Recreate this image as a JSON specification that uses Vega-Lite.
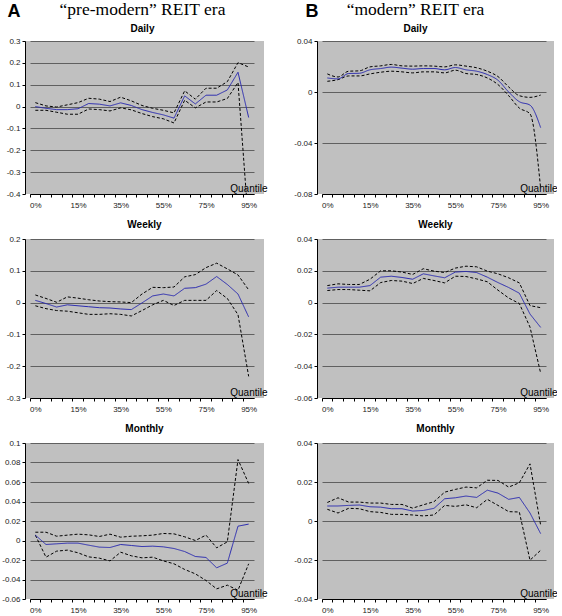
{
  "$schema": "https://vega.github.io/schema/vega-lite/v6.json",
  "background": "white",
  "padding": {"left": 1, "top": 0, "right": 0, "bottom": 0},
  "columns": 2,
  "bounds": "flush",
  "spacing": {"row": 45, "column": 53},
  "datasets": {
    "AD": [
      {"q": "0%", "est": 0.0, "hi": 0.018, "lo": -0.017},
      {"q": "1%", "est": -0.008, "hi": 0.003, "lo": -0.017},
      {"q": "5%", "est": -0.014, "hi": -0.002, "lo": -0.026},
      {"q": "10%", "est": -0.014, "hi": 0.008, "lo": -0.035},
      {"q": "15%", "est": -0.01, "hi": 0.018, "lo": -0.035},
      {"q": "20%", "est": 0.014, "hi": 0.038, "lo": -0.011},
      {"q": "25%", "est": 0.011, "hi": 0.034, "lo": -0.014},
      {"q": "30%", "est": 0.003, "hi": 0.023, "lo": -0.02},
      {"q": "35%", "est": 0.017, "hi": 0.043, "lo": -0.006},
      {"q": "40%", "est": 0.005, "hi": 0.026, "lo": -0.015},
      {"q": "45%", "est": -0.014, "hi": 0.005, "lo": -0.032},
      {"q": "50%", "est": -0.027, "hi": -0.008, "lo": -0.046},
      {"q": "55%", "est": -0.038, "hi": -0.017, "lo": -0.056},
      {"q": "60%", "est": -0.053, "hi": -0.029, "lo": -0.075},
      {"q": "65%", "est": 0.049, "hi": 0.072, "lo": 0.029},
      {"q": "70%", "est": 0.012, "hi": 0.034, "lo": -0.006},
      {"q": "75%", "est": 0.052, "hi": 0.084, "lo": 0.021},
      {"q": "80%", "est": 0.052, "hi": 0.084, "lo": 0.021},
      {"q": "85%", "est": 0.076, "hi": 0.114, "lo": 0.037},
      {"q": "90%", "est": 0.157, "hi": 0.201, "lo": 0.11},
      {"q": "95%", "est": -0.05, "hi": 0.181, "lo": -0.55}
    ],
    "BD": [
      {"q": "0%", "est": 0.011, "hi": 0.0142, "lo": 0.0084},
      {"q": "1%", "est": 0.0103, "hi": 0.0118, "lo": 0.0097},
      {"q": "5%", "est": 0.0145, "hi": 0.0163, "lo": 0.0126},
      {"q": "10%", "est": 0.0147, "hi": 0.0166, "lo": 0.0126},
      {"q": "15%", "est": 0.0174, "hi": 0.0197, "lo": 0.0142},
      {"q": "20%", "est": 0.0184, "hi": 0.0205, "lo": 0.0155},
      {"q": "25%", "est": 0.0195, "hi": 0.0216, "lo": 0.0163},
      {"q": "30%", "est": 0.0187, "hi": 0.0205, "lo": 0.0158},
      {"q": "35%", "est": 0.0179, "hi": 0.0203, "lo": 0.015},
      {"q": "40%", "est": 0.0184, "hi": 0.0205, "lo": 0.0158},
      {"q": "45%", "est": 0.0184, "hi": 0.0203, "lo": 0.0158},
      {"q": "50%", "est": 0.0174, "hi": 0.0197, "lo": 0.015},
      {"q": "55%", "est": 0.0192, "hi": 0.0213, "lo": 0.0171},
      {"q": "60%", "est": 0.0174, "hi": 0.0203, "lo": 0.0145},
      {"q": "65%", "est": 0.0163, "hi": 0.019, "lo": 0.0137},
      {"q": "70%", "est": 0.0137, "hi": 0.0163, "lo": 0.011},
      {"q": "75%", "est": 0.0092, "hi": 0.0121, "lo": 0.0058},
      {"q": "80%", "est": 0.0, "hi": 0.004, "lo": -0.0029},
      {"q": "85%", "est": -0.0076, "hi": -0.0029, "lo": -0.0126},
      {"q": "90%", "est": -0.0103, "hi": -0.0042, "lo": -0.0171},
      {"q": "95%", "est": -0.028, "hi": -0.0024, "lo": -0.0758}
    ],
    "AW": [
      {"q": "0%", "est": 0.007, "hi": 0.024, "lo": -0.01},
      {"q": "1%", "est": -0.003, "hi": 0.013, "lo": -0.019},
      {"q": "5%", "est": -0.014, "hi": 0.001, "lo": -0.025},
      {"q": "10%", "est": -0.007, "hi": 0.018, "lo": -0.027},
      {"q": "15%", "est": -0.01, "hi": 0.014, "lo": -0.032},
      {"q": "20%", "est": -0.013, "hi": 0.009, "lo": -0.037},
      {"q": "25%", "est": -0.016, "hi": 0.005, "lo": -0.037},
      {"q": "30%", "est": -0.017, "hi": 0.003, "lo": -0.035},
      {"q": "35%", "est": -0.02, "hi": 0.002, "lo": -0.037},
      {"q": "40%", "est": -0.022, "hi": 0.0, "lo": -0.042},
      {"q": "45%", "est": -0.001, "hi": 0.027, "lo": -0.025},
      {"q": "50%", "est": 0.021, "hi": 0.048, "lo": -0.007},
      {"q": "55%", "est": 0.027, "hi": 0.047, "lo": 0.007},
      {"q": "60%", "est": 0.021, "hi": 0.049, "lo": -0.009},
      {"q": "65%", "est": 0.045, "hi": 0.081, "lo": 0.007},
      {"q": "70%", "est": 0.047, "hi": 0.088, "lo": 0.007},
      {"q": "75%", "est": 0.058, "hi": 0.11, "lo": 0.007},
      {"q": "80%", "est": 0.082, "hi": 0.124, "lo": 0.038},
      {"q": "85%", "est": 0.057, "hi": 0.106, "lo": 0.013},
      {"q": "90%", "est": 0.027, "hi": 0.087, "lo": -0.038},
      {"q": "95%", "est": -0.045, "hi": 0.04, "lo": -0.232}
    ],
    "BW": [
      {"q": "0%", "est": 0.0091, "hi": 0.0107, "lo": 0.0076},
      {"q": "1%", "est": 0.0097, "hi": 0.0118, "lo": 0.0082},
      {"q": "5%", "est": 0.0097, "hi": 0.0114, "lo": 0.0082},
      {"q": "10%", "est": 0.0097, "hi": 0.0114, "lo": 0.0078},
      {"q": "15%", "est": 0.0107, "hi": 0.0147, "lo": 0.0074},
      {"q": "20%", "est": 0.016, "hi": 0.02, "lo": 0.0126},
      {"q": "25%", "est": 0.0166, "hi": 0.02, "lo": 0.0139},
      {"q": "30%", "est": 0.0158, "hi": 0.0192, "lo": 0.0135},
      {"q": "35%", "est": 0.0147, "hi": 0.0177, "lo": 0.012},
      {"q": "40%", "est": 0.0181, "hi": 0.0213, "lo": 0.0152},
      {"q": "45%", "est": 0.0168, "hi": 0.0198, "lo": 0.0139},
      {"q": "50%", "est": 0.0156, "hi": 0.0189, "lo": 0.0124},
      {"q": "55%", "est": 0.0192, "hi": 0.0217, "lo": 0.0166},
      {"q": "60%", "est": 0.0196, "hi": 0.0229, "lo": 0.0164},
      {"q": "65%", "est": 0.0189, "hi": 0.0225, "lo": 0.0149},
      {"q": "70%", "est": 0.016, "hi": 0.0198, "lo": 0.0131},
      {"q": "75%", "est": 0.0126, "hi": 0.0181, "lo": 0.0078},
      {"q": "80%", "est": 0.0095, "hi": 0.0156, "lo": 0.0029},
      {"q": "85%", "est": 0.0059, "hi": 0.0124, "lo": -0.0006},
      {"q": "90%", "est": -0.0072, "hi": -0.0019, "lo": -0.0154},
      {"q": "95%", "est": -0.0156, "hi": -0.0032, "lo": -0.0444}
    ],
    "AM": [
      {"q": "0%", "est": 0.0055, "hi": 0.0085, "lo": 0.0055},
      {"q": "1%", "est": -0.0041, "hi": 0.0085, "lo": -0.0171},
      {"q": "5%", "est": -0.0034, "hi": 0.0044, "lo": -0.0109},
      {"q": "10%", "est": -0.0027, "hi": 0.0055, "lo": -0.0099},
      {"q": "15%", "est": -0.0027, "hi": 0.0065, "lo": -0.0126},
      {"q": "20%", "est": -0.0048, "hi": 0.0058, "lo": -0.0168},
      {"q": "25%", "est": -0.0068, "hi": 0.0041, "lo": -0.0181},
      {"q": "30%", "est": -0.0072, "hi": 0.0065, "lo": -0.0209},
      {"q": "35%", "est": -0.0041, "hi": 0.0034, "lo": -0.012},
      {"q": "40%", "est": -0.0051, "hi": 0.0044, "lo": -0.0157},
      {"q": "45%", "est": -0.0062, "hi": 0.0048, "lo": -0.0178},
      {"q": "50%", "est": -0.0058, "hi": 0.0055, "lo": -0.0171},
      {"q": "55%", "est": -0.0065, "hi": 0.0072, "lo": -0.0209},
      {"q": "60%", "est": -0.0082, "hi": 0.0068, "lo": -0.0239},
      {"q": "65%", "est": -0.0113, "hi": 0.0038, "lo": -0.0297},
      {"q": "70%", "est": -0.0164, "hi": 0.0, "lo": -0.0342},
      {"q": "75%", "est": -0.0174, "hi": 0.0055, "lo": -0.041},
      {"q": "80%", "est": -0.028, "hi": -0.0075, "lo": -0.0496},
      {"q": "85%", "est": -0.0232, "hi": -0.0014, "lo": -0.0458},
      {"q": "90%", "est": 0.0147, "hi": 0.083, "lo": -0.051},
      {"q": "95%", "est": 0.0168, "hi": 0.0585, "lo": -0.0239}
    ],
    "BM": [
      {"q": "0%", "est": 0.0077, "hi": 0.0095, "lo": 0.006},
      {"q": "1%", "est": 0.0077, "hi": 0.0119, "lo": 0.0041},
      {"q": "5%", "est": 0.008, "hi": 0.0097, "lo": 0.0065},
      {"q": "10%", "est": 0.0082, "hi": 0.0097, "lo": 0.0063},
      {"q": "15%", "est": 0.0073, "hi": 0.0092, "lo": 0.0048},
      {"q": "20%", "est": 0.0071, "hi": 0.0092, "lo": 0.0044},
      {"q": "25%", "est": 0.0063, "hi": 0.0085, "lo": 0.0034},
      {"q": "30%", "est": 0.0063, "hi": 0.0085, "lo": 0.0034},
      {"q": "35%", "est": 0.0051, "hi": 0.0066, "lo": 0.0031},
      {"q": "40%", "est": 0.0054, "hi": 0.0083, "lo": 0.0026},
      {"q": "45%", "est": 0.0065, "hi": 0.0099, "lo": 0.0031},
      {"q": "50%", "est": 0.0114, "hi": 0.0148, "lo": 0.008},
      {"q": "55%", "est": 0.0119, "hi": 0.0162, "lo": 0.0075},
      {"q": "60%", "est": 0.0128, "hi": 0.0174, "lo": 0.0083},
      {"q": "65%", "est": 0.0121, "hi": 0.017, "lo": 0.0068},
      {"q": "70%", "est": 0.0158, "hi": 0.0209, "lo": 0.0111},
      {"q": "75%", "est": 0.0143, "hi": 0.0208, "lo": 0.008},
      {"q": "80%", "est": 0.0111, "hi": 0.0174, "lo": 0.0048},
      {"q": "85%", "est": 0.0121, "hi": 0.0196, "lo": 0.0046},
      {"q": "90%", "est": 0.0041, "hi": 0.0293, "lo": -0.0201},
      {"q": "95%", "est": -0.0065, "hi": -0.0022, "lo": -0.015}
    ]
  },
  "concat": [
    {
      "width": 239, "height": 153,
      "data": {"name": "AD"},
      "transform": [{"fold": ["hi", "lo", "est"], "as": ["series", "value"]}],
      "title": {"text": "“pre-modern” REIT era", "subtitle": "Daily", "dx": -2, "dy": 37, "font": "Liberation Serif", "fontSize": 17.5, "fontWeight": "normal"},
      "mark": {"type": "line", "strokeWidth": 1, "clip": true},
      "encoding": {
        "x": {"field": "q", "type": "ordinal",
          "scale": {"type": "point", "domain": ["0%","1%","5%","10%","15%","20%","25%","30%","35%","40%","45%","50%","55%","60%","65%","70%","75%","80%","85%","90%","95%"], "range": [5, 229]},
          "axis": {"title": "Quantile", "titleX": 242}},
        "y": {"field": "value", "type": "quantitative", "title": "A",
          "scale": {"domain": [-0.4, 0.3], "nice": false, "zero": false},
          "axis": {"values": [-0.4, -0.3, -0.2, -0.1, 0, 0.1, 0.2, 0.3], "titleAngle": 0, "titleX": -18, "titleY": -25, "titleAlign": "left", "titleBaseline": "alphabetic", "titleFontSize": 18, "titleFontWeight": "bold"}},
        "color": {"field": "series", "type": "nominal", "scale": {"domain": ["hi", "lo", "est"], "range": ["#000000", "#000000", "#2a2ab0"]}, "legend": null},
        "strokeDash": {"field": "series", "type": "nominal", "scale": {"domain": ["hi", "lo", "est"], "range": [[3, 2], [3, 2], [1, 0]]}, "legend": null}
      }
    },
    {
      "width": 237, "height": 153,
      "data": {"name": "BD"},
      "title": {"text": "“modern” REIT era", "subtitle": "Daily", "dx": -20, "dy": 37, "font": "Liberation Serif", "fontSize": 17.5, "fontWeight": "normal"},
      "encoding": {
        "x": {"field": "q", "type": "ordinal",
          "scale": {"type": "point", "domain": ["0%","1%","5%","10%","15%","20%","25%","30%","35%","40%","45%","50%","55%","60%","65%","70%","75%","80%","85%","90%","95%"], "range": [5, 229]},
          "axis": {"title": "Quantile", "titleX": 240}}
      },
      "layer": [
        {
          "mark": {"type": "rule", "color": "#000000", "strokeWidth": 1.2},
          "encoding": {"y": {"datum": 0, "type": "quantitative", "title": "B",
            "scale": {"domain": [-0.08, 0.04], "nice": false, "zero": false},
            "axis": {"values": [-0.08, -0.04, 0, 0.04], "titleAngle": 0, "titleX": -12, "titleY": -25, "titleAlign": "left", "titleBaseline": "alphabetic", "titleFontSize": 18, "titleFontWeight": "bold"}}}
        },
        {
          "transform": [{"fold": ["hi", "lo", "est"], "as": ["series", "value"]}],
          "mark": {"type": "line", "strokeWidth": 1, "clip": true, "interpolate": "monotone"},
          "encoding": {
            "y": {"field": "value", "type": "quantitative", "title": "B"},
            "color": {"field": "series", "type": "nominal", "scale": {"domain": ["hi", "lo", "est"], "range": ["#000000", "#000000", "#2a2ab0"]}, "legend": null},
            "strokeDash": {"field": "series", "type": "nominal", "scale": {"domain": ["hi", "lo", "est"], "range": [[3, 2], [3, 2], [1, 0]]}, "legend": null}
          }
        }
      ]
    },
    {
      "width": 239, "height": 159,
      "data": {"name": "AW"},
      "transform": [{"fold": ["hi", "lo", "est"], "as": ["series", "value"]}],
      "title": {"text": "Weekly"},
      "mark": {"type": "line", "strokeWidth": 1, "clip": true},
      "encoding": {
        "x": {"field": "q", "type": "ordinal",
          "scale": {"type": "point", "domain": ["0%","1%","5%","10%","15%","20%","25%","30%","35%","40%","45%","50%","55%","60%","65%","70%","75%","80%","85%","90%","95%"], "range": [5, 229]},
          "axis": {"title": "Quantile", "titleX": 242}},
        "y": {"field": "value", "type": "quantitative", "title": null,
          "scale": {"domain": [-0.3, 0.2], "nice": false, "zero": false},
          "axis": {"values": [-0.3, -0.2, -0.1, 0, 0.1, 0.2]}},
        "color": {"field": "series", "type": "nominal", "scale": {"domain": ["hi", "lo", "est"], "range": ["#000000", "#000000", "#2a2ab0"]}, "legend": null},
        "strokeDash": {"field": "series", "type": "nominal", "scale": {"domain": ["hi", "lo", "est"], "range": [[3, 2], [3, 2], [1, 0]]}, "legend": null}
      }
    },
    {
      "width": 237, "height": 159,
      "data": {"name": "BW"},
      "transform": [{"fold": ["hi", "lo", "est"], "as": ["series", "value"]}],
      "title": {"text": "Weekly"},
      "mark": {"type": "line", "strokeWidth": 1, "clip": true},
      "encoding": {
        "x": {"field": "q", "type": "ordinal",
          "scale": {"type": "point", "domain": ["0%","1%","5%","10%","15%","20%","25%","30%","35%","40%","45%","50%","55%","60%","65%","70%","75%","80%","85%","90%","95%"], "range": [5, 229]},
          "axis": {"title": "Quantile", "titleX": 240}},
        "y": {"field": "value", "type": "quantitative", "title": null,
          "scale": {"domain": [-0.06, 0.04], "nice": false, "zero": false},
          "axis": {"values": [-0.06, -0.04, -0.02, 0, 0.02, 0.04]}},
        "color": {"field": "series", "type": "nominal", "scale": {"domain": ["hi", "lo", "est"], "range": ["#000000", "#000000", "#2a2ab0"]}, "legend": null},
        "strokeDash": {"field": "series", "type": "nominal", "scale": {"domain": ["hi", "lo", "est"], "range": [[3, 2], [3, 2], [1, 0]]}, "legend": null}
      }
    },
    {
      "width": 239, "height": 156,
      "data": {"name": "AM"},
      "transform": [{"fold": ["hi", "lo", "est"], "as": ["series", "value"]}],
      "title": {"text": "Monthly"},
      "mark": {"type": "line", "strokeWidth": 1, "clip": true},
      "encoding": {
        "x": {"field": "q", "type": "ordinal",
          "scale": {"type": "point", "domain": ["0%","1%","5%","10%","15%","20%","25%","30%","35%","40%","45%","50%","55%","60%","65%","70%","75%","80%","85%","90%","95%"], "range": [5, 229]},
          "axis": {"title": "Quantile", "titleX": 242}},
        "y": {"field": "value", "type": "quantitative", "title": null,
          "scale": {"domain": [-0.06, 0.1], "nice": false, "zero": false},
          "axis": {"values": [-0.06, -0.04, -0.02, 0, 0.02, 0.04, 0.06, 0.08, 0.1]}},
        "color": {"field": "series", "type": "nominal", "scale": {"domain": ["hi", "lo", "est"], "range": ["#000000", "#000000", "#2a2ab0"]}, "legend": null},
        "strokeDash": {"field": "series", "type": "nominal", "scale": {"domain": ["hi", "lo", "est"], "range": [[3, 2], [3, 2], [1, 0]]}, "legend": null}
      }
    },
    {
      "width": 237, "height": 156,
      "data": {"name": "BM"},
      "transform": [{"fold": ["hi", "lo", "est"], "as": ["series", "value"]}],
      "title": {"text": "Monthly"},
      "mark": {"type": "line", "strokeWidth": 1, "clip": true},
      "encoding": {
        "x": {"field": "q", "type": "ordinal",
          "scale": {"type": "point", "domain": ["0%","1%","5%","10%","15%","20%","25%","30%","35%","40%","45%","50%","55%","60%","65%","70%","75%","80%","85%","90%","95%"], "range": [5, 229]},
          "axis": {"title": "Quantile", "titleX": 240}},
        "y": {"field": "value", "type": "quantitative", "title": null,
          "scale": {"domain": [-0.04, 0.04], "nice": false, "zero": false},
          "axis": {"values": [-0.04, -0.02, 0, 0.02, 0.04]}},
        "color": {"field": "series", "type": "nominal", "scale": {"domain": ["hi", "lo", "est"], "range": ["#000000", "#000000", "#2a2ab0"]}, "legend": null},
        "strokeDash": {"field": "series", "type": "nominal", "scale": {"domain": ["hi", "lo", "est"], "range": [[3, 2], [3, 2], [1, 0]]}, "legend": null}
      }
    }
  ],
  "config": {
    "font": "Liberation Sans",
    "view": {"fill": "#c0c0c0", "stroke": null},
    "axis": {
      "labelFont": "Liberation Sans", "labelFontSize": 8, "labelColor": "#222222",
      "domainColor": "#000000", "domainWidth": 1, "tickColor": "#000000", "tickSize": 3, "tickWidth": 1,
      "titleFont": "Liberation Sans", "titleColor": "#000000"
    },
    "axisY": {
      "grid": true, "gridColor": "#606060", "gridWidth": 1, "gridOpacity": 1,
      "labelPadding": 2, "labelOverlap": false,
      "labelExpr": "datum.value == 0 ? '0' : (datum.value < 0 ? '-' : '') + format(abs(datum.value), '~g')"
    },
    "axisX": {
      "grid": false, "labelAngle": 0, "labelPadding": 4, "labelOverlap": false,
      "tickOffset": -5.6, "labelOffset": 5.6,
      "labelExpr": "indexof(['0%','15%','35%','55%','75%','95%'], datum.label) >= 0 ? datum.label : ''",
      "titleY": -1, "titleAlign": "right", "titleBaseline": "bottom", "titleFontSize": 10, "titleFontWeight": "normal", "titleAnchor": "end"
    },
    "title": {
      "font": "Liberation Sans", "fontSize": 10, "fontWeight": "bold", "color": "#000000",
      "subtitleFont": "Liberation Sans", "subtitleFontSize": 10, "subtitleFontWeight": "bold", "subtitleColor": "#000000",
      "subtitlePadding": 6, "offset": 5, "anchor": "middle", "frame": "group"
    }
  }
}
